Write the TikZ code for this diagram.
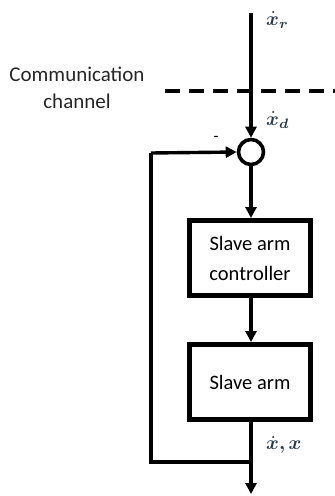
\documentclass[tikz,border=0pt]{standalone}
\usepackage{fontspec}
\setmainfont{Carlito}
\usepackage{amsmath,bm}
\usetikzlibrary{arrows.meta}
\definecolor{lbl}{HTML}{2B3A4A}
\newcommand{\biglbl}[1]{\scalebox{1.95}{$\bm{#1}$}}
\begin{document}
\begin{tikzpicture}[x=1pt,y=-1pt,
  conn/.style={line width=3.4pt,-{Triangle[length=11pt,width=11pt]}},
  line/.style={line width=3.4pt},
  blockbox/.style={draw,line width=5pt,minimum width=121pt,minimum height=75pt,align=center,font=\fontsize{20.5}{30}\selectfont},
  mlabel/.style={text=lbl,anchor=west,inner sep=0pt}]
\useasboundingbox (0,0) rectangle (335,496);
\coordinate (top) at (251,13);
\node[circle,draw,line width=3.6pt,minimum size=25pt,inner sep=0pt] (sum) at (251,152) {};
\node[blockbox] (ctrl) at (250,258) {Slave arm\\controller};
\node[blockbox] (arm) at (250,382) {Slave arm};
\coordinate (out) at (251,494);
\coordinate (fb) at (251,462);
\coordinate (fbl) at (151,462);
\coordinate (fbt) at (151,153);
\coordinate (dl) at (165,91);
\coordinate (dr) at (335,91);
\draw[conn] (top) -- (sum.north);
\draw[conn] (sum.south) -- (ctrl.north -| sum.south);
\draw[conn] (ctrl.south -| sum.south) -- (arm.north -| sum.south);
\draw[conn] (arm.south -| sum.south) -- (out);
\draw[line] (fb) -- (fbl) -- (fbt);
\draw[conn] (fbt) -- (sum.west);
\draw[line width=3.4pt,dash pattern=on 15pt off 9pt] (dl) -- (dr);
\node[font=\fontsize{21}{27}\selectfont,align=center,text=black!85] (cc) at (77,88) {Communication\\channel};
\node[mlabel] (xr) at (266,20) {\biglbl{\dot{x}_r}};
\node[mlabel] (xd) at (266,120) {\biglbl{\dot{x}_d}};
\node[mlabel] (xx) at (266,445) {\biglbl{\dot{x},x}};
\node[font=\fontsize{16}{16}\selectfont] (minus) at (216,139) {-};
\end{tikzpicture}
\end{document}
